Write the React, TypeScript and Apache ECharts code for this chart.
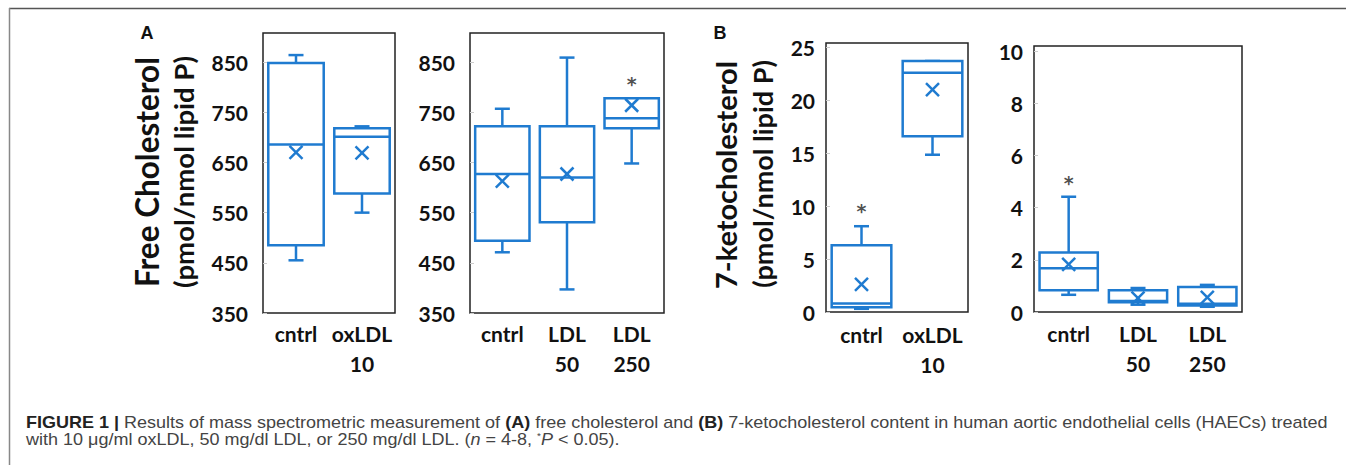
import React, { useEffect, useRef } from "react";
import * as echarts from "echarts";

// ---------- data ----------
const catsA1 = ["cntrl", "oxLDL\n10"];
const minA1 = [455, 550];
const q1A1 = [485, 588];
const medA1 = [686, 701];
const q3A1 = [848, 718];
const maxA1 = [864, 722];
const meanA1 = [670, 669];
const starA1: (number | null)[] = [null, null];

const catsA2 = ["cntrl", "LDL\n50", "LDL\n250"];
const minA2 = [471, 397, 648];
const q1A2 = [494, 531, 718];
const medA2 = [627, 620, 738];
const q3A2 = [722, 722, 778];
const maxA2 = [757, 859, 778];
const meanA2 = [613, 627, 764];
const starA2: (number | null)[] = [null, null, 806];

const catsB1 = ["cntrl", "oxLDL\n10"];
const minB1 = [0.3, 14.85];
const q1B1 = [0.45, 16.6];
const medB1 = [0.8, 22.6];
const q3B1 = [6.3, 23.7];
const maxB1 = [8.1, 23.7];
const meanB1 = [2.6, 21.0];
const starB1: (number | null)[] = [9.5, null];

const catsB2 = ["cntrl", "LDL\n50", "LDL\n250"];
const minB2 = [0.66, 0.28, 0.2];
const q1B2 = [0.83, 0.37, 0.25];
const medB2 = [1.68, 0.42, 0.32];
const q3B2 = [2.28, 0.83, 0.96];
const maxB2 = [4.42, 0.92, 1.04];
const meanB2 = [1.83, 0.53, 0.56];
const starB2: (number | null)[] = [4.93, null, null];

const yMinA = 350, yMaxA = 908, yStepA = 100;
const yMinB1 = 0, yMaxB1 = 25.4, yStepB1 = 5;
const yMinB2 = 0, yMaxB2 = 10.2, yStepB2 = 2;

const titleA = ["Free Cholesterol", "(pmol/nmol lipid P)"];
const titleB = ["7-ketocholesterol", "(pmol/nmol lipid P)"];
const captionText =
  "{b|FIGURE 1 |}{r| Results of mass spectrometric measurement of }{b|(A)}{r| free cholesterol and }{b|(B)}{r| 7-ketocholesterol content in human aortic endothelial cells (HAECs) treated}\n" +
  "{r|with 10 μg/ml oxLDL, 50 mg/dl LDL, or 250 mg/dl LDL. (}{i|n}{r| = 4-8, }{s|*}{i|P}{r| < 0.05).}";

// ---------- styling ----------
const BLUE = "#1f7bd0";
const INK = "#111111";
const FONT = "Lato, 'Open Sans', sans-serif";

type Panel = {
  cats: string[];
  mins: number[];
  q1: number[];
  med: number[];
  q3: number[];
  max: number[];
  mean: number[];
  star: (number | null)[];
  yMin: number;
  yMax: number;
  yStep: number;
  grid: { left: number; top: number; width: number; height: number };
  labelMargin: number;
  yLabelMargin: number;
};

const panels: Panel[] = [
  { cats: catsA1, mins: minA1, q1: q1A1, med: medA1, q3: q3A1, max: maxA1, mean: meanA1, star: starA1,
    yMin: yMinA, yMax: yMaxA, yStep: yStepA, grid: { left: 263, top: 33, width: 132, height: 280 }, labelMargin: 5, yLabelMargin: 15 },
  { cats: catsA2, mins: minA2, q1: q1A2, med: medA2, q3: q3A2, max: maxA2, mean: meanA2, star: starA2,
    yMin: yMinA, yMax: yMaxA, yStep: yStepA, grid: { left: 470, top: 33, width: 194, height: 280 }, labelMargin: 5, yLabelMargin: 15 },
  { cats: catsB1, mins: minB1, q1: q1B1, med: medB1, q3: q3B1, max: maxB1, mean: meanB1, star: starB1,
    yMin: yMinB1, yMax: yMaxB1, yStep: yStepB1, grid: { left: 826, top: 43, width: 142, height: 269 }, labelMargin: 7, yLabelMargin: 11 },
  { cats: catsB2, mins: minB2, q1: q1B2, med: medB2, q3: q3B2, max: maxB2, mean: meanB2, star: starB2,
    yMin: yMinB2, yMax: yMaxB2, yStep: yStepB2, grid: { left: 1034, top: 46, width: 208, height: 266 }, labelMargin: 6, yLabelMargin: 11 },
];

function renderBox(params: any, api: any) {
  const x = api.value(0);
  const band = api.size([1, 0])[0];
  const half = band * 0.42;
  const cap = 7.5;
  const xs = 6.5;
  const pMin = api.coord([x, api.value(1)]);
  const pQ1 = api.coord([x, api.value(2)]);
  const pMed = api.coord([x, api.value(3)]);
  const pQ3 = api.coord([x, api.value(4)]);
  const pMax = api.coord([x, api.value(5)]);
  const pMean = api.coord([x, api.value(6)]);
  const cx = pMed[0];
  const st = { stroke: BLUE, lineWidth: 2.5, fill: null };
  const ln = (x1: number, y1: number, x2: number, y2: number) => ({
    type: "line",
    shape: { x1, y1, x2, y2 },
    style: st,
  });
  return {
    type: "group",
    children: [
      ln(cx, pQ3[1], cx, pMax[1]),
      ln(cx - cap, pMax[1], cx + cap, pMax[1]),
      ln(cx, pQ1[1], cx, pMin[1]),
      ln(cx - cap, pMin[1], cx + cap, pMin[1]),
      {
        type: "rect",
        shape: { x: cx - half, y: pQ3[1], width: half * 2, height: pQ1[1] - pQ3[1] },
        style: { stroke: BLUE, lineWidth: 2.5, fill: "#ffffff" },
      },
      ln(cx - half, pMed[1], cx + half, pMed[1]),
      ln(pMean[0] - xs, pMean[1] - xs, pMean[0] + xs, pMean[1] + xs),
      ln(pMean[0] - xs, pMean[1] + xs, pMean[0] + xs, pMean[1] - xs),
    ],
  };
}

function buildOption() {
  const grid: any[] = [];
  const xAxis: any[] = [];
  const yAxis: any[] = [];
  const series: any[] = [];
  panels.forEach((p, i) => {
    grid.push({ ...p.grid, show: true, borderColor: "#222", borderWidth: 1.5, backgroundColor: "#fff" });
    xAxis.push({
      type: "category",
      gridIndex: i,
      data: p.cats,
      axisLine: { show: false },
      axisTick: { show: false },
      axisLabel: {
        color: INK,
        fontFamily: FONT,
        fontWeight: "bold",
        fontSize: 21,
        lineHeight: 30,
        margin: p.labelMargin,
        interval: 0,
      },
    });
    yAxis.push({
      type: "value",
      gridIndex: i,
      min: p.yMin,
      max: p.yMax,
      interval: p.yStep,
      splitLine: { show: false },
      axisLine: { show: false },
      axisTick: { show: true, inside: true, length: 4, lineStyle: { color: "#cccccc" } },
      axisLabel: {
        color: INK,
        fontFamily: FONT,
        fontWeight: "bold",
        fontSize: 21,
        margin: p.yLabelMargin,
        showMaxLabel: false,
        formatter: (v: number) => {
          const k = (v - p.yMin) / p.yStep;
          return Math.abs(k - Math.round(k)) < 1e-6 ? String(Math.round(v)) : "";
        },
      },
    });
    series.push({
      type: "custom",
      xAxisIndex: i,
      yAxisIndex: i,
      renderItem: renderBox,
      encode: { x: 0, y: [1, 2, 3, 4, 5, 6] },
      data: p.cats.map((_, k) => [k, p.mins[k], p.q1[k], p.med[k], p.q3[k], p.max[k], p.mean[k]]),
      silent: true,
    });
    const stars = p.star
      .map((v, k) => (v == null ? null : [k, v]))
      .filter((d) => d != null);
    if (stars.length) {
      series.push({
        type: "scatter",
        xAxisIndex: i,
        yAxisIndex: i,
        symbolSize: 1,
        itemStyle: { color: "rgba(0,0,0,0)" },
        data: stars,
        label: {
          show: true,
          position: "inside",
          formatter: "*",
          color: "#222",
          fontFamily: "'DejaVu Sans', sans-serif",
          fontWeight: "bold",
          fontSize: 19,
        },
        silent: true,
      });
    }
  });

  const yTitle = (text: string, x: number, y: number, size: number) => ({
    type: "text",
    x,
    y,
    rotation: Math.PI / 2,
    style: {
      text,
      fontFamily: FONT,
      fontWeight: "bold",
      fontSize: size,
      fill: INK,
      align: "center",
      verticalAlign: "middle",
    },
  });

  const capFont = "'Liberation Sans Narrow', 'Liberation Sans', Arial, sans-serif";
  const letterFont = "'Liberation Sans', Arial, sans-serif";
  const LH = 16.5;
  const CF = 16;
  const graphic: any[] = [
    { type: "line", shape: { x1: 9, y1: 8.5, x2: 1346, y2: 8.5 }, style: { stroke: "#555", lineWidth: 1.5 } },
    { type: "line", shape: { x1: 9.5, y1: 8, x2: 9.5, y2: 465 }, style: { stroke: "#888", lineWidth: 1.5 } },
    { type: "text", x: 147, y: 33, style: { text: "A", fontFamily: letterFont, fontWeight: "bold", fontSize: 18, fill: INK, align: "center", verticalAlign: "middle" } },
    { type: "text", x: 720, y: 33, style: { text: "B", fontFamily: letterFont, fontWeight: "bold", fontSize: 18, fill: INK, align: "center", verticalAlign: "middle" } },
    yTitle(titleA[0], 147, 172, 31.5),
    yTitle(titleA[1], 183, 172, 27.5),
    yTitle(titleB[0], 725, 175, 29),
    yTitle(titleB[1], 762, 174, 27),
    {
      type: "text",
      x: 26,
      y: 414,
      scaleX: 1.125,
      scaleY: 1.05,
      style: {
        text: captionText,
        fontFamily: capFont,
        fontSize: CF,
        lineHeight: LH / 1.05,
        fill: "#444",
        verticalAlign: "top",
        rich: {
          r: { fontFamily: capFont, fontSize: CF, lineHeight: LH / 1.05, fill: "#444" },
          b: { fontFamily: capFont, fontSize: CF, lineHeight: LH / 1.05, fontWeight: "bold", fill: "#222" },
          i: { fontFamily: capFont, fontSize: CF, lineHeight: LH / 1.05, fontStyle: "italic", fill: "#444" },
          s: { fontFamily: capFont, fontSize: 9, lineHeight: LH / 1.05, fill: "#444", verticalAlign: "top" },
        },
      },
    },
  ];

  return {
    animation: false,
    backgroundColor: "#ffffff",
    grid,
    xAxis,
    yAxis,
    series,
    graphic,
  };
}

export default function App() {
  const ref = useRef<HTMLDivElement>(null);
  useEffect(() => {
    if (!ref.current) return;
    const chart = echarts.init(ref.current, null, { renderer: "svg" });
    chart.setOption(buildOption() as any);
    return () => chart.dispose();
  }, []);
  return (
    <div
      ref={ref}
      style={{ position: "fixed", left: 0, top: 0, width: 1346, height: 465, background: "#fff" }}
    />
  );
}
